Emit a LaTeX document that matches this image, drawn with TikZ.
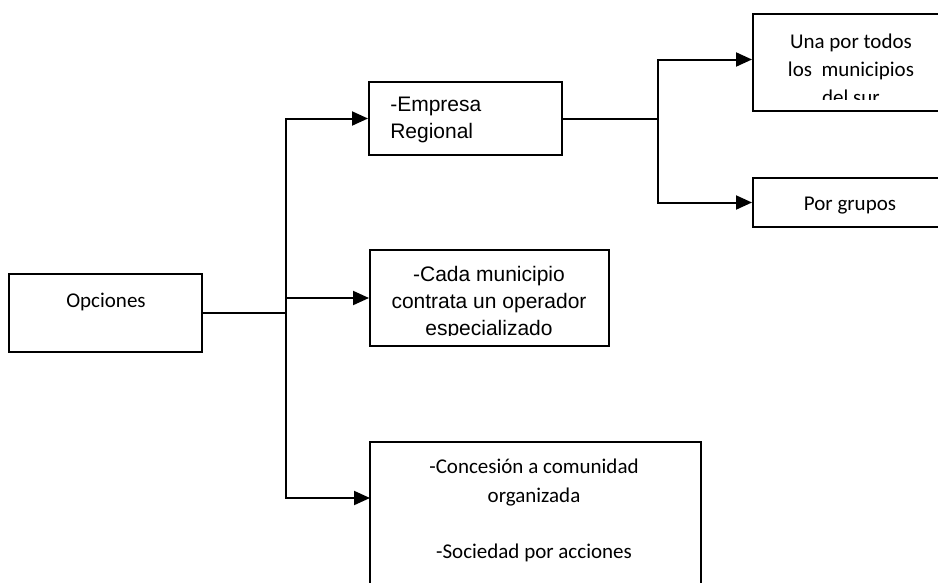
\documentclass[tikz,border=0pt]{standalone}
\usepackage{fontspec}
\setmainfont{Carlito}
\newfontfamily\arialfont{Liberation Sans}
\usetikzlibrary{arrows.meta}
\begin{document}
\begin{tikzpicture}[x=0.75pt,y=-0.75pt,
  box/.style={draw,line width=1.5pt,inner sep=0pt,rectangle},
  conn/.style={line width=1.5pt},
  arr/.style={conn,-{Triangle[length=12pt,width=10.5pt]}},
  lbl/.style={inner sep=0pt,align=center,font=\fontsize{15.75pt}{21pt}\selectfont},
  alab/.style={inner sep=0pt,font=\arialfont\fontsize{15.75pt}{20.25pt}\selectfont}]
\useasboundingbox (0,0) rectangle (938,582);
\clip (0,0) rectangle (938,582);
\fill[white] (0,0) rectangle (938,582);

% boxes
\node[box,minimum width=144.75pt,minimum height=58.5pt] (O) at (105.5,313) {};
\node[box,minimum width=144.75pt,minimum height=54.75pt] (E) at (465.5,118.5) {};
\node[box,minimum width=155.25pt,minimum height=72.75pt] (U) at (856.5,62.5) {};
\node[box,minimum width=155.25pt,minimum height=36.75pt] (P) at (856.5,202.5) {};
\node[box,minimum width=179.25pt,minimum height=72pt] (C) at (489.5,298) {};
\node[box,minimum width=248.25pt,minimum height=133.5pt] (B) at (535.5,531) {};

% texts
\node[lbl,anchor=base] (tO) at (106,307) {Opciones};
\node[alab,anchor=west,align=left] (tE) at (390,120) {-Empresa\\Regional};
\begin{scope}
  \clip (753,14) rectangle (960,99);
  \node[lbl] (tU) at (851,69) {Una por todos\\los~ municipios\\del sur};
\end{scope}
\node[lbl,anchor=base] (tP) at (850,210) {Por grupos};
\begin{scope}
  \clip (370,250) rectangle (609,335);
  \node[alab,align=center] (tC) at (489,303) {-Cada municipio\\contrata un operador\\especializado};
\end{scope}
\node[lbl,font=\fontsize{15.75pt}{21.75pt}\selectfont] (tB) at (534,510) {-Concesión a comunidad\\organizada\\[20.25pt]-Sociedad por acciones};

% connectors
\coordinate (t1) at (286,313);
\draw[conn] (O.east) -- (t1);
\draw[arr] (t1) |- (E.west);
\draw[arr] (t1) |- (C.west);
\coordinate (bin) at (370,498);
\draw[arr] (t1) |- (bin);
\coordinate (t2) at (658,118.5);
\draw[conn] (E.east) -- (t2);
\draw[arr] (t2) |- ([yshift=2.25pt]U.west);
\draw[arr] (t2) |- (P.west);
\end{tikzpicture}
\end{document}
